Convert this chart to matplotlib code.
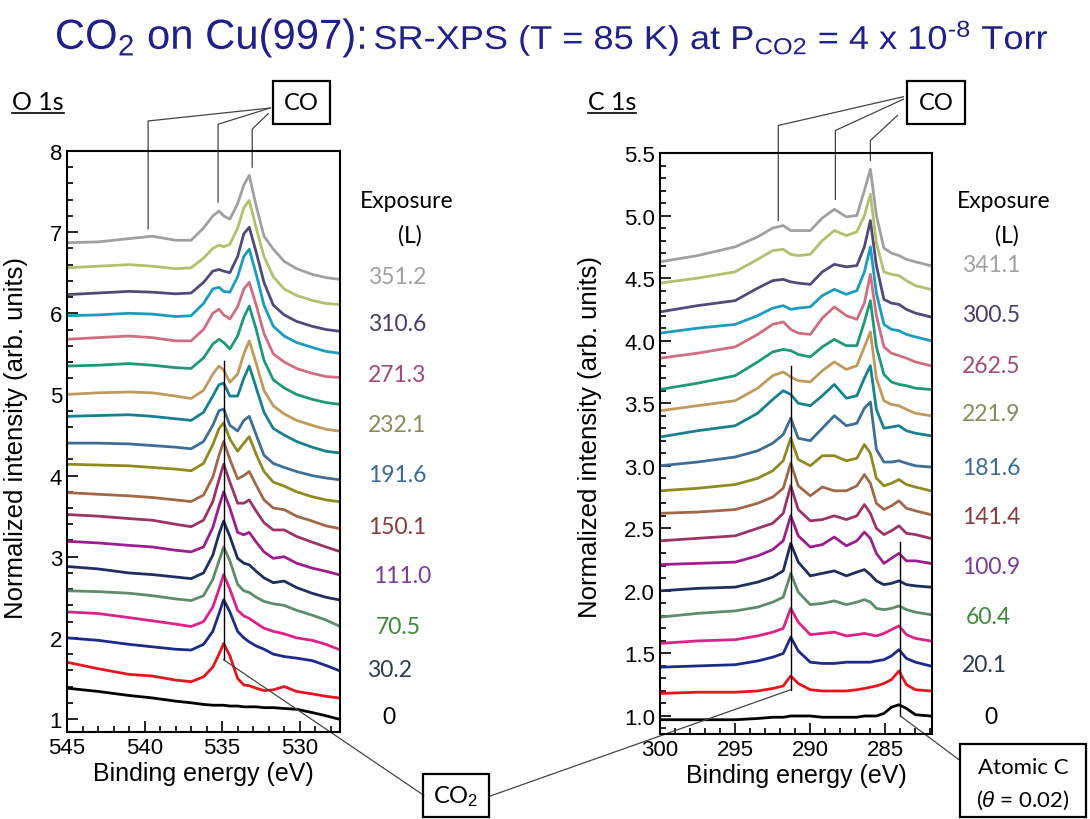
"""SR-XPS O 1s / C 1s spectra of CO2 on Cu(997) at 85 K, stacked by exposure."""

import matplotlib
matplotlib.use("Agg")
import matplotlib.pyplot as plt
from matplotlib.patches import Rectangle, PathPatch
from matplotlib.lines import Line2D
from matplotlib.textpath import TextPath
from matplotlib.font_manager import FontProperties
from matplotlib.transforms import Affine2D
from matplotlib.ticker import MultipleLocator, FormatStrFormatter

# ---------------------------------------------------------------- data
# binding energies (eV) of the read-off points
e_o1s = [545, 543, 541, 539.5, 538, 537, 536.2, 535.6, 535.2, 534.9, 534.5,
         534.0, 533.6, 533.25, 532.8, 532.3, 531.7, 531.0, 530.2, 529.2,
         528.3, 527.5]
e_c1s = [300, 297.5, 295, 293.5, 292.5, 291.8, 291.3, 290.8, 290, 289.2,
         288.4, 287.6, 286.9, 286.4, 286.0, 285.6, 285.1, 284.6, 284.1,
         283.6, 283, 282]

# normalized (offset) intensities, bottom spectrum first
o1s_spectra = [
    [1.38, 1.34, 1.29, 1.26, 1.22, 1.20, 1.18, 1.17, 1.17, 1.17, 1.16, 1.16, 1.15, 1.15, 1.15, 1.14, 1.14, 1.13, 1.12, 1.08, 1.04, 1.00],
    [1.70, 1.62, 1.55, 1.53, 1.48, 1.46, 1.52, 1.64, 1.80, 1.93, 1.78, 1.50, 1.42, 1.41, 1.38, 1.35, 1.36, 1.40, 1.34, 1.31, 1.28, 1.26],
    [2.00, 1.97, 1.92, 1.89, 1.86, 1.85, 1.92, 2.08, 2.30, 2.47, 2.32, 2.08, 2.00, 1.95, 1.90, 1.86, 1.80, 1.77, 1.75, 1.72, 1.66, 1.60],
    [2.32, 2.30, 2.25, 2.21, 2.17, 2.14, 2.20, 2.38, 2.60, 2.78, 2.60, 2.34, 2.27, 2.24, 2.18, 2.12, 2.08, 2.05, 2.00, 1.97, 1.92, 1.86],
    [2.58, 2.57, 2.55, 2.52, 2.48, 2.46, 2.52, 2.72, 2.95, 3.12, 2.95, 2.66, 2.58, 2.56, 2.50, 2.45, 2.42, 2.40, 2.34, 2.28, 2.22, 2.15],
    [2.88, 2.85, 2.80, 2.78, 2.75, 2.73, 2.80, 3.02, 3.28, 3.44, 3.25, 2.98, 2.92, 2.90, 2.82, 2.74, 2.68, 2.70, 2.62, 2.55, 2.50, 2.47],
    [3.19, 3.17, 3.14, 3.12, 3.08, 3.06, 3.12, 3.36, 3.62, 3.80, 3.60, 3.30, 3.27, 3.30, 3.18, 3.06, 2.98, 3.00, 2.92, 2.86, 2.82, 2.78],
    [3.52, 3.50, 3.47, 3.45, 3.40, 3.37, 3.45, 3.68, 3.95, 4.14, 3.92, 3.66, 3.66, 3.70, 3.56, 3.42, 3.33, 3.33, 3.25, 3.18, 3.12, 3.07],
    [3.79, 3.77, 3.75, 3.73, 3.70, 3.68, 3.76, 3.98, 4.25, 4.42, 4.20, 3.96, 4.00, 4.05, 3.88, 3.70, 3.60, 3.58, 3.50, 3.44, 3.38, 3.35],
    [4.14, 4.13, 4.12, 4.10, 4.08, 4.06, 4.15, 4.38, 4.58, 4.65, 4.45, 4.30, 4.40, 4.48, 4.26, 4.05, 3.92, 3.87, 3.80, 3.74, 3.70, 3.68],
    [4.40, 4.40, 4.39, 4.37, 4.35, 4.33, 4.42, 4.62, 4.80, 4.82, 4.62, 4.55, 4.68, 4.73, 4.50, 4.25, 4.15, 4.10, 4.05, 4.00, 3.97, 3.95],
    [4.73, 4.74, 4.75, 4.73, 4.70, 4.68, 4.78, 4.98, 5.12, 5.14, 4.98, 4.98, 5.20, 5.35, 5.08, 4.78, 4.58, 4.50, 4.42, 4.35, 4.30, 4.28],
    [5.00, 5.02, 5.03, 5.02, 4.98, 4.95, 5.05, 5.25, 5.35, 5.30, 5.15, 5.25, 5.50, 5.66, 5.38, 5.05, 4.86, 4.76, 4.68, 4.62, 4.57, 4.55],
    [5.35, 5.36, 5.38, 5.36, 5.33, 5.32, 5.45, 5.62, 5.68, 5.64, 5.56, 5.72, 5.95, 6.09, 5.80, 5.42, 5.18, 5.08, 5.00, 4.94, 4.90, 4.88],
    [5.68, 5.70, 5.72, 5.70, 5.66, 5.66, 5.80, 6.00, 6.05, 5.98, 5.93, 6.08, 6.30, 6.38, 6.10, 5.75, 5.50, 5.40, 5.32, 5.26, 5.22, 5.21],
    [5.97, 5.98, 6.00, 5.99, 5.96, 5.97, 6.12, 6.30, 6.32, 6.27, 6.26, 6.45, 6.70, 6.79, 6.48, 6.10, 5.84, 5.72, 5.64, 5.58, 5.53, 5.51],
    [6.23, 6.25, 6.27, 6.26, 6.24, 6.25, 6.38, 6.52, 6.54, 6.52, 6.50, 6.70, 6.98, 7.06, 6.75, 6.38, 6.10, 5.98, 5.90, 5.84, 5.80, 5.78],
    [6.56, 6.58, 6.60, 6.58, 6.55, 6.56, 6.68, 6.80, 6.84, 6.82, 6.85, 7.05, 7.30, 7.39, 7.05, 6.70, 6.45, 6.30, 6.22, 6.16, 6.12, 6.11],
    [6.87, 6.88, 6.92, 6.95, 6.90, 6.90, 7.05, 7.20, 7.26, 7.20, 7.16, 7.35, 7.58, 7.70, 7.32, 6.95, 6.79, 6.64, 6.55, 6.48, 6.44, 6.42],
]

c1s_spectra = [
    [0.97, 0.97, 0.97, 0.98, 0.99, 0.99, 1.00, 1.00, 1.00, 0.99, 0.99, 0.99, 0.99, 1.00, 1.00, 1.00, 1.02, 1.07, 1.09, 1.06, 1.01, 1.00],
    [1.18, 1.19, 1.19, 1.20, 1.22, 1.24, 1.32, 1.26, 1.21, 1.20, 1.20, 1.20, 1.21, 1.22, 1.23, 1.24, 1.26, 1.29, 1.36, 1.25, 1.21, 1.20],
    [1.39, 1.40, 1.41, 1.44, 1.47, 1.50, 1.63, 1.52, 1.43, 1.42, 1.42, 1.43, 1.43, 1.43, 1.43, 1.44, 1.45, 1.48, 1.53, 1.46, 1.43, 1.40],
    [1.58, 1.60, 1.61, 1.64, 1.67, 1.70, 1.86, 1.75, 1.65, 1.66, 1.67, 1.64, 1.65, 1.66, 1.65, 1.64, 1.66, 1.69, 1.72, 1.65, 1.62, 1.60],
    [1.79, 1.82, 1.84, 1.87, 1.91, 1.95, 2.14, 1.99, 1.89, 1.90, 1.92, 1.89, 1.91, 1.93, 1.91, 1.86, 1.85, 1.86, 1.88, 1.85, 1.83, 1.81],
    [2.00, 2.02, 2.03, 2.07, 2.11, 2.16, 2.38, 2.23, 2.12, 2.14, 2.16, 2.12, 2.15, 2.17, 2.13, 2.08, 2.05, 2.06, 2.08, 2.05, 2.04, 2.03],
    [2.21, 2.22, 2.23, 2.28, 2.33, 2.40, 2.60, 2.44, 2.35, 2.37, 2.43, 2.36, 2.40, 2.47, 2.42, 2.30, 2.22, 2.26, 2.30, 2.24, 2.24, 2.22],
    [2.40, 2.42, 2.44, 2.50, 2.54, 2.62, 2.84, 2.65, 2.56, 2.57, 2.60, 2.57, 2.60, 2.69, 2.62, 2.50, 2.45, 2.48, 2.52, 2.46, 2.45, 2.42],
    [2.62, 2.63, 2.65, 2.70, 2.75, 2.82, 3.02, 2.84, 2.76, 2.83, 2.80, 2.80, 2.84, 2.93, 2.86, 2.70, 2.65, 2.68, 2.72, 2.66, 2.64, 2.61],
    [2.80, 2.82, 2.85, 2.90, 2.96, 3.04, 3.22, 3.05, 3.00, 3.08, 3.08, 3.04, 3.06, 3.17, 3.10, 2.90, 2.84, 2.86, 2.89, 2.85, 2.83, 2.80],
    [3.00, 3.03, 3.07, 3.12, 3.18, 3.25, 3.38, 3.22, 3.20, 3.30, 3.40, 3.32, 3.34, 3.46, 3.51, 3.13, 3.03, 3.03, 3.04, 3.02, 3.00, 2.99],
    [3.23, 3.28, 3.32, 3.42, 3.53, 3.60, 3.57, 3.50, 3.48, 3.56, 3.65, 3.54, 3.56, 3.70, 3.80, 3.45, 3.30, 3.31, 3.32, 3.28, 3.26, 3.24],
    [3.44, 3.48, 3.52, 3.62, 3.72, 3.75, 3.71, 3.68, 3.67, 3.76, 3.83, 3.77, 3.80, 3.95, 4.07, 3.70, 3.52, 3.49, 3.48, 3.45, 3.42, 3.40],
    [3.61, 3.66, 3.72, 3.83, 3.91, 3.93, 3.92, 3.89, 3.87, 3.95, 4.01, 3.96, 3.96, 4.15, 4.32, 3.95, 3.73, 3.67, 3.65, 3.64, 3.62, 3.61],
    [3.86, 3.90, 3.95, 4.05, 4.13, 4.15, 4.09, 4.06, 4.05, 4.18, 4.27, 4.20, 4.17, 4.30, 4.53, 4.20, 3.95, 3.90, 3.88, 3.86, 3.83, 3.80],
    [4.06, 4.10, 4.13, 4.20, 4.26, 4.28, 4.25, 4.26, 4.27, 4.36, 4.41, 4.37, 4.40, 4.55, 4.75, 4.38, 4.13, 4.09, 4.08, 4.05, 4.03, 4.00],
    [4.23, 4.28, 4.32, 4.42, 4.48, 4.49, 4.47, 4.46, 4.45, 4.55, 4.61, 4.59, 4.60, 4.75, 4.96, 4.60, 4.33, 4.30, 4.29, 4.25, 4.22, 4.19],
    [4.46, 4.50, 4.55, 4.65, 4.72, 4.73, 4.69, 4.68, 4.69, 4.80, 4.88, 4.84, 4.87, 5.00, 5.17, 4.78, 4.55, 4.53, 4.52, 4.48, 4.44, 4.41],
    [4.63, 4.68, 4.75, 4.83, 4.90, 4.92, 4.88, 4.88, 4.88, 4.98, 5.05, 4.99, 5.00, 5.20, 5.37, 5.00, 4.74, 4.70, 4.68, 4.65, 4.63, 4.60],
]

# exposure (L) labels, every second spectrum, bottom first
o1s_exposure = ["0", "30.2", "70.5", "111.0", "150.1", "191.6", "232.1", "271.3", "310.6", "351.2"]
c1s_exposure = ["0", "20.1", "60.4", "100.9", "141.4", "181.6", "221.9", "262.5", "300.5", "341.1"]

# ---------------------------------------------------------------- style
curve_colors = ["#000000", "#e8141c", "#1c2a8a", "#e0208a", "#5e8c68", "#1c2f5e",
                "#9c1d8e", "#9c3366", "#a06848", "#8f8a1f", "#3d6e96", "#17808f",
                "#bf9a5c", "#1e9878", "#cf6e80", "#1a9cc0", "#4f4a7a", "#b3bf6a",
                "#a0a0a0"]
label_colors = ["#000000", "#2a3a55", "#3a8a3a", "#7a3aa0", "#8a3a3a",
                "#3a6a9a", "#8a8a5a", "#a04a7a", "#4a3a6a", "#a0a0a0"]

W, H = 1090, 820
SANS = ["Liberation Sans", "DejaVu Sans"]
CAL = ["Lato", "DejaVu Sans"]
NAVY = "#20208c"
ANNO = "#444444"

plt.rcParams["font.family"] = SANS
plt.rcParams["mathtext.fontset"] = "custom"
plt.rcParams["mathtext.rm"] = "Liberation Sans"
plt.rcParams["mathtext.it"] = "Liberation Sans:italic"


def fxy(px, py):
    """figure pixel (from top-left) -> figure fraction"""
    return px / W, 1 - py / H


def fig_box(x0, y0, x1, y1, lw=1.6):
    a, b = fxy(x0, y1)
    fig.add_artist(Rectangle((a, b), (x1 - x0) / W, (y1 - y0) / H, fill=False,
                             lw=lw, ec="black", transform=fig.transFigure))


def squeezed_text(s, size, x0, x1, baseline):
    """Text path squeezed horizontally to span pixel x0..x1 (narrow-font look)."""
    path = TextPath((0, 0), s, size=size, prop=FontProperties(family="Liberation Sans"))
    ext = path.get_extents()
    sx = (x1 - x0) / ext.width
    tr = Affine2D().translate(-ext.x0, 0).scale(sx, 1).translate(x0, H - baseline)
    fig.add_artist(PathPatch(path, transform=tr, fc=NAVY, ec="none"))


fig = plt.figure(figsize=(W / 100, H / 100), dpi=100)
ax_o = fig.add_axes([67 / W, 1 - 733 / H, 273 / W, 581 / H])
ax_c = fig.add_axes([660 / W, 1 - 735 / H, 272 / W, 581 / H])

for spec, col in zip(o1s_spectra, curve_colors):
    ax_o.plot(e_o1s, spec, color=col, lw=2.0, solid_joinstyle="round")
for spec, col in zip(c1s_spectra, curve_colors):
    ax_c.plot(e_c1s, spec, color=col, lw=2.0, solid_joinstyle="round")

for ax in (ax_o, ax_c):
    for s in ax.spines.values():
        s.set_linewidth(1.5)
    ax.tick_params(which="both", direction="in", top=False, right=False,
                   labelsize=16, width=1.2)
    ax.tick_params(which="major", length=8)
    ax.tick_params(which="minor", length=4)
    ax.xaxis.set_minor_locator(MultipleLocator(1))
    ax.set_xlabel("Binding energy (eV)", fontsize=18, labelpad=2)
    ax.set_ylabel("Normalized intensity (arb. units)", fontsize=18.5)

ax_o.set_xlim(545, 527.4)
ax_o.set_ylim(0.84, 8.0)
ax_o.set_xticks([545, 540, 535, 530])
ax_o.yaxis.set_major_locator(MultipleLocator(1))
ax_o.yaxis.set_minor_locator(MultipleLocator(0.2))
ax_o.yaxis.set_label_coords(-0.143, 0.508)

ax_c.set_xlim(300, 281.9)
ax_c.set_ylim(0.856, 5.5)
ax_c.set_xticks([300, 295, 290, 285])
ax_c.yaxis.set_major_locator(MultipleLocator(0.5))
ax_c.yaxis.set_minor_locator(MultipleLocator(0.1))
ax_c.yaxis.set_major_formatter(FormatStrFormatter("%.1f"))
ax_c.yaxis.set_label_coords(-0.213, 0.513)

# ---------------------------------------------------------------- title
squeezed_text("CO$_2$ on Cu(997):", 42, 57, 364, 50)
squeezed_text("SR-XPS (T = 85 K) at P$_{\\mathrm{CO2}}$ = 4 x 10$^{\\mathrm{\u2010 8}}$ Torr",
              33, 375, 1047, 50)

# ---------------------------------------------------------------- panel labels
for px, txt in [(12, "O 1s"), (588, "C 1s")]:
    t = fig.text(*fxy(px, 110), txt, fontsize=18, family=CAL, va="baseline")
    fig.canvas.draw()
    b = t.get_window_extent()
    fig.add_artist(Line2D([b.x0 / W, b.x1 / W], [1 - 114 / H] * 2, color="black",
                          lw=1.2, transform=fig.transFigure))

# ---------------------------------------------------------------- exposure labels
o_x = [382, 367, 376, 373, 368, 368, 368, 368, 368, 368]
o_y = [718, 671, 628, 577, 527, 476, 426, 376, 325, 277]
c_x = [984, 962, 966, 962, 962, 962, 962, 962, 962, 962]
c_y = [718, 666, 618, 568, 517, 469, 415, 367, 316, 266]
for x0, xs, ys, labels in [(360, o_x, o_y, o1s_exposure), (957, c_x, c_y, c1s_exposure)]:
    fig.text(*fxy(x0, 201), "Exposure", fontsize=16.5, family=CAL, va="center")
    fig.text(*fxy(x0 + 38, 236), "(L)", fontsize=16.5, family=CAL, va="center")
    for x, y, lab, col in zip(xs, ys, labels, label_colors):
        fig.text(*fxy(x, y), lab, fontsize=16.5, family=CAL, color=col, va="center")

# ---------------------------------------------------------------- annotations
fig_box(273, 82, 330, 125)
fig.text(*fxy(301.5, 104), "CO", fontsize=17, family=CAL, ha="center", va="center")
fig_box(907, 82, 965, 125)
fig.text(*fxy(936, 104), "CO", fontsize=17, family=CAL, ha="center", va="center")
fig_box(423, 775, 489, 818)
fig.text(*fxy(456, 797), "CO$_2$", fontsize=17, family=CAL, ha="center", va="center")
fig_box(960, 745, 1086, 818)
fig.text(*fxy(1023, 768), "Atomic C", fontsize=16, family=CAL, ha="center", va="center")
fig.text(*fxy(1023, 800), "($\\theta$ = 0.02)", fontsize=16, family=CAL, ha="center",
         va="center")

kw = dict(color=ANNO, lw=0.9, clip_on=False)
# O 1s CO markers
ax_o.plot([531.9, 539.77, 539.77], [8.53, 8.37, 7.04], **kw)
ax_o.plot([531.9, 535.26, 535.26], [8.53, 8.33, 7.37], **kw)
ax_o.plot([532.03, 533.06, 533.06], [8.46, 8.27, 7.80], **kw)
# C 1s CO markers
ax_c.plot([283.8, 292.13, 292.13], [5.95, 5.72, 4.96], **kw)
ax_c.plot([283.8, 288.33, 288.33], [5.93, 5.68, 5.13], **kw)
ax_c.plot([284.2, 286.0, 286.0], [5.80, 5.60, 5.44], **kw)
# CO2 markers
ax_o.plot([534.9, 534.9], [5.41, 1.73], color="black", lw=1.0, clip_on=False)
ax_o.plot([534.9, 522.0], [1.73, 0.06], **kw)
ax_c.plot([291.3, 291.3], [3.80, 1.21], color="black", lw=1.0, clip_on=False)
ax_c.plot([291.3, 311.4], [1.21, 0.356], **kw)
# atomic C marker
ax_c.plot([284.0, 284.0], [2.39, 1.0], color="black", lw=1.0, clip_on=False)
ax_c.plot([284.0, 280.1], [1.0, 0.65], **kw)

fig.savefig("out.png", dpi=100)
